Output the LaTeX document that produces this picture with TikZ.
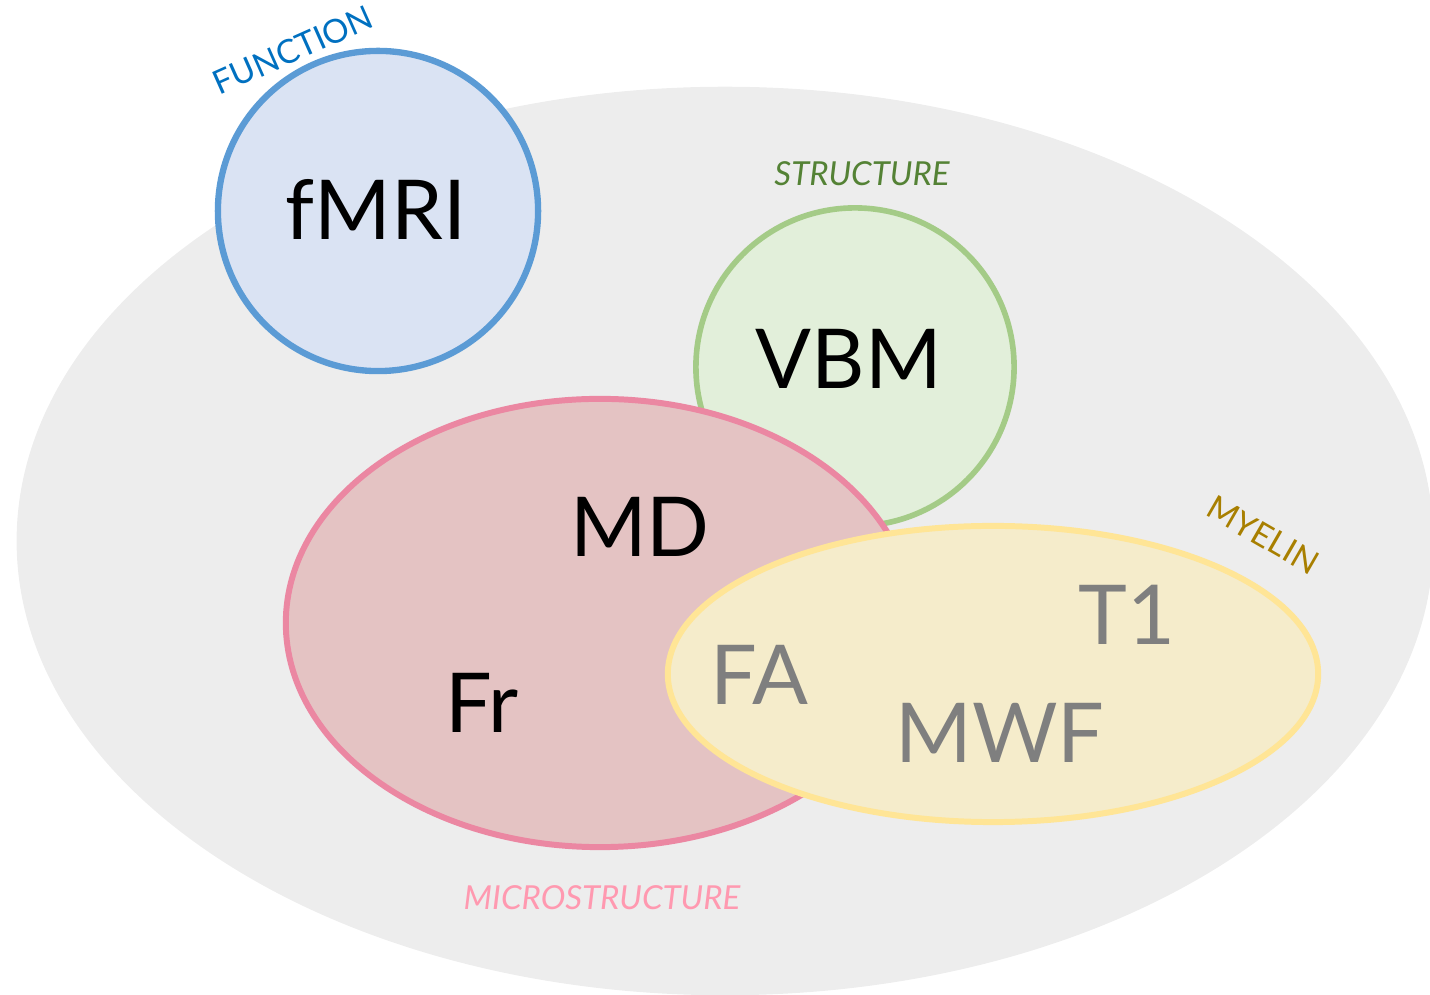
\documentclass[tikz,border=0pt]{standalone}
\usepackage{fontspec}
\setmainfont{Lato}
\definecolor{bggray}{HTML}{EDEDED}
\definecolor{funcfill}{HTML}{DAE3F3}
\definecolor{funcline}{HTML}{5B9BD5}
\definecolor{functext}{HTML}{0070C0}
\definecolor{structfill}{HTML}{E2EFDA}
\definecolor{structline}{HTML}{A4CB87}
\definecolor{structtext}{HTML}{548235}
\definecolor{microfill}{HTML}{E4C3C3}
\definecolor{microline}{HTML}{EB87A2}
\definecolor{microtext}{HTML}{FF99B0}
\definecolor{myelinfill}{HTML}{F5ECCB}
\definecolor{myelinline}{HTML}{FFE596}
\definecolor{myelintext}{HTML}{A87F00}
\definecolor{meastext}{HTML}{7F7F7F}
\tikzset{
  measure/.style={font=\fontsize{23.5}{28}\selectfont, anchor=base, inner sep=0pt},
  group/.style={font=\fontsize{9.4}{11}\selectfont, inner sep=0pt},
}
\begin{document}
\begin{tikzpicture}[x=0.01cm,y=-0.01cm]
        \useasboundingbox (0,0) rectangle (1430,995);
        \clip (0,0) rectangle (1430,995);
        % background
        \fill[bggray] (725,541) ellipse [x radius=7.08cm, y radius=4.54cm];
        % modality sets
        \filldraw[fill=funcfill,draw=funcline,line width=1.8pt] (378,211) circle [radius=1.6cm];
        \filldraw[fill=structfill,draw=structline,line width=1.6pt] (855,367) circle [radius=1.59cm];
        \filldraw[fill=microfill,draw=microline,line width=1.7pt] (600,623) ellipse [x radius=3.14cm, y radius=2.24cm];
        \filldraw[fill=myelinfill,draw=myelinline,line width=1.7pt] (993,674) ellipse [x radius=3.25cm, y radius=1.48cm];
        % measures
        \node[measure] (fmri) at (376,240) {fMRI};
        \node[measure] (vbm) at (849,389) {VBM};
        \node[measure] (md) at (640,557) {MD};
        \node[measure] (fr) at (482,733) {Fr};
        \node[measure,meastext] (fa) at (759,705) {FA};
        \node[measure,meastext] (tone) at (1127,645) {T1};
        \node[measure,meastext] (mwf) at (1000,763) {MWF};
        % group labels
        \node[group,functext,rotate=24] (function) at (293,50) {FUNCTION};
        \node[group,structtext] (structure) at (862,174) {\itshape STRUCTURE};
        \node[group,myelintext,rotate=-30] (myelin) at (1263,535) {MYELIN};
        \node[group,microtext] (micro) at (602,898) {\itshape MICROSTRUCTURE};
    \end{tikzpicture}
\end{document}
